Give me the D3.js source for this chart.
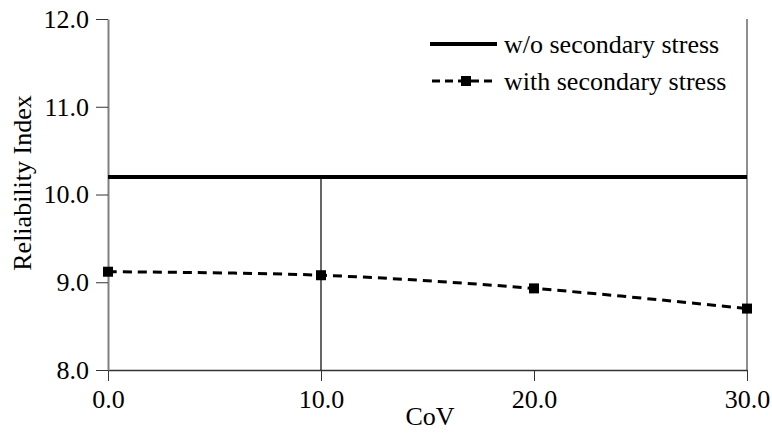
<!DOCTYPE html>
<html>
<head>
<meta charset="utf-8">
<script src="https://cdn.jsdelivr.net/npm/d3@7"></script>
</head>
<body style="margin:0;background:#fff">
<div id="chart"></div>
<script>
// data
let cov = [0, 10, 20, 30];
let withSecondary = [9.12, 9.08, 8.93, 8.70];
let withoutSecondary = 10.2;
let xTicks = [0, 10, 20, 30];
let yTicks = [8, 9, 10, 11, 12];
let seriesNames = ["w/o secondary stress", "with secondary stress"];

let svg = d3.select("#chart").append("svg")
  .attr("width", 772)
  .attr("height", 434)
  .attr("font-family", "Liberation Serif")
  .attr("font-size", 26);

let x = d3.scaleLinear().domain([0, 30]).range([108, 747]);
let y = d3.scaleLinear().domain([8, 12]).range([370, 19]);

// x axis
let xAxis = svg.append("g")
  .attr("transform", `translate(0,${y(8)})`)
  .call(d3.axisBottom(x).tickValues(xTicks).tickFormat(d3.format(".1f")).tickSize(11).tickPadding(9).tickSizeOuter(0))
  .attr("font-family", "Liberation Serif")
  .attr("font-size", 26);
xAxis.select(".domain").attr("stroke", "#333").attr("stroke-width", 1.5);
xAxis.selectAll(".tick line").attr("stroke", "#333");
xAxis.selectAll("text").attr("fill", "#000");

// y axis
let yAxis = svg.append("g")
  .attr("transform", `translate(${x(0)},0)`)
  .call(d3.axisLeft(y).tickValues(yTicks).tickFormat(d3.format(".1f")).tickSize(12).tickPadding(7).tickSizeOuter(0))
  .attr("font-family", "Liberation Serif")
  .attr("font-size", 26);
yAxis.select(".domain").attr("stroke", "#808080").attr("stroke-width", 2);
yAxis.selectAll(".tick line").attr("stroke", "#333");
yAxis.selectAll("text").attr("fill", "#000");

// right border + the line at 10.0
svg.append("line")
  .attr("x1", x(30)).attr("x2", x(30))
  .attr("y1", y(12)).attr("y2", y(8))
  .attr("stroke", "#444").attr("stroke-width", 1.2);
svg.append("line")
  .attr("x1", x(10)).attr("x2", x(10))
  .attr("y1", y(withoutSecondary)).attr("y2", y(8))
  .attr("stroke", "#000").attr("stroke-width", 1.2);

// w/o secondary stress
svg.append("line")
  .attr("x1", x(0)).attr("x2", x(30))
  .attr("y1", y(withoutSecondary)).attr("y2", y(withoutSecondary))
  .attr("stroke", "#000").attr("stroke-width", 4);

// with secondary stress
let line = d3.line()
  .x((d, i) => x(cov[i]))
  .y(d => y(d))
  .curve(d3.curveCatmullRom.alpha(0.5));

svg.append("path")
  .datum(withSecondary)
  .attr("d", line)
  .attr("fill", "none")
  .attr("stroke", "#000")
  .attr("stroke-width", 3)
  .attr("stroke-dasharray", "9,6");

svg.selectAll(".pt")
  .data(withSecondary)
  .enter()
  .append("rect")
  .attr("class", "pt")
  .attr("x", (d, i) => x(cov[i]) - 5)
  .attr("y", d => y(d) - 5)
  .attr("width", 10)
  .attr("height", 10)
  .attr("fill", "#000");

// axis titles
svg.append("text")
  .attr("x", 430)
  .attr("y", 425)
  .attr("text-anchor", "middle")
  .text("CoV");

svg.append("text")
  .attr("transform", `translate(31,183) rotate(-90)`)
  .attr("text-anchor", "middle")
  .text("Reliability Index");

// legend
let legend = svg.append("g");
legend.append("line")
  .attr("x1", 430).attr("x2", 497)
  .attr("y1", 44).attr("y2", 44)
  .attr("stroke", "#000").attr("stroke-width", 4);
legend.append("text")
  .attr("x", 504).attr("y", 53)
  .text(seriesNames[0]);

legend.append("line")
  .attr("x1", 432).attr("x2", 497)
  .attr("y1", 81).attr("y2", 81)
  .attr("stroke", "#000").attr("stroke-width", 3)
  .attr("stroke-dasharray", "8,5");
legend.append("rect")
  .attr("x", 461).attr("y", 76)
  .attr("width", 10).attr("height", 10)
  .attr("fill", "#000");
legend.append("text")
  .attr("x", 504).attr("y", 90)
  .text(seriesNames[1]);
</script>
</body>
</html>
